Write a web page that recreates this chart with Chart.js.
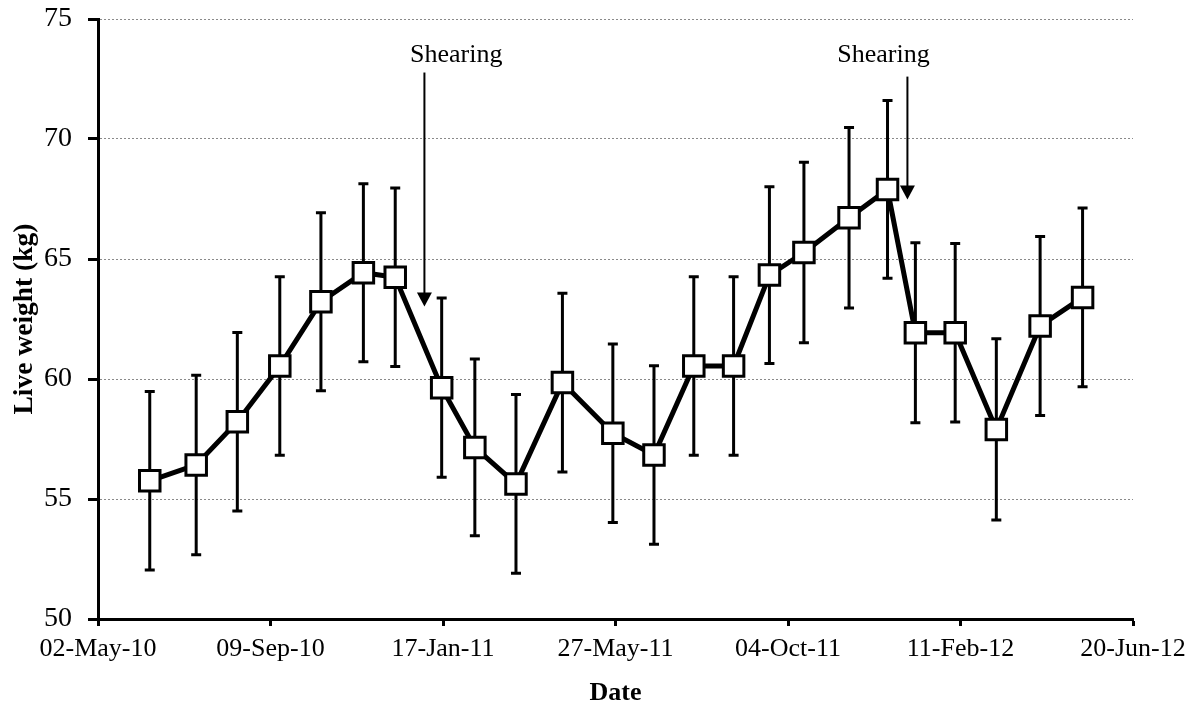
<!DOCTYPE html>
<html>
<head>
<meta charset="utf-8">
<script src="https://cdn.jsdelivr.net/npm/chart.js@4/dist/chart.umd.min.js"></script>
<style>
  html, body { margin: 0; padding: 0; background: #fff; }
  #wrap { width: 1204px; height: 709px; }
</style>
</head>
<body>
<div id="wrap"><canvas id="c" width="1204" height="709"></canvas></div>
<script>
// Sampling dates and mean live weight (kg) with ± error
const sampleDates = [
  '2010-06-10', '2010-07-15', '2010-08-15', '2010-09-16', '2010-10-17', '2010-11-18',
  '2010-12-12', '2011-01-16', '2011-02-10', '2011-03-13', '2011-04-17', '2011-05-25',
  '2011-06-25', '2011-07-25', '2011-08-24', '2011-09-20', '2011-10-16', '2011-11-19',
  '2011-12-18', '2012-01-08', '2012-02-07', '2012-03-09', '2012-04-11', '2012-05-13'
];
const liveWeight = [
  55.76, 56.42, 58.22, 60.54, 63.22, 64.43,
  64.24, 59.64, 57.15, 55.63, 59.85, 57.74,
  56.83, 60.54, 60.54, 64.33, 65.27, 66.72,
  67.90, 61.93, 61.93, 57.90, 62.21, 63.40
];
const weightError = [
  3.72, 3.74, 3.72, 3.72, 3.71, 3.71,
  3.72, 3.73, 3.68, 3.72, 3.72, 3.72,
  3.72, 3.72, 3.72, 3.68, 3.76, 3.76,
  3.70, 3.75, 3.72, 3.78, 3.73, 3.72
];
const xTickDates = ['2010-05-02', '2010-09-09', '2011-01-17', '2011-05-27', '2011-10-04', '2012-02-11', '2012-06-20'];
const yTicks = [50, 55, 60, 65, 70, 75];

// Shearing events: arrow date, arrow top / tip (kg), label date and label baseline (kg)
const shearArrowDates = ['2011-01-03', '2012-01-02'];
const shearArrowTop = [72.77, 72.60];
const shearArrowTip = [63.02, 67.48];
const shearLabelDates = ['2011-01-27', '2011-12-15'];
const shearLabelLevel = [73.19, 73.19];
const shearLabel = 'Shearing';

const MONTHS = ['Jan','Feb','Mar','Apr','May','Jun','Jul','Aug','Sep','Oct','Nov','Dec'];
function dayNum(s) {
  const [y, m, d] = s.split('-').map(Number);
  return Date.UTC(y, m - 1, d) / 86400000;
}
function fmtDay(n) {
  const dt = new Date(Math.round(n) * 86400000);
  const dd = String(dt.getUTCDate()).padStart(2, '0');
  const yy = String(dt.getUTCFullYear() % 100).padStart(2, '0');
  return dd + '-' + MONTHS[dt.getUTCMonth()] + '-' + yy;
}

const points = sampleDates.map((d, i) => ({ x: dayNum(d), y: liveWeight[i] }));
const FONT = "'Liberation Serif', 'Times New Roman', serif";

// Vertical error bars with caps, drawn beneath the line and markers
const errorBars = {
  id: 'errorBars',
  beforeDatasetsDraw(chart) {
    const { ctx, scales: { x, y } } = chart;
    ctx.save();
    ctx.strokeStyle = '#000';
    ctx.lineWidth = 3;
    ctx.lineCap = 'butt';
    points.forEach((p, i) => {
      const px = x.getPixelForValue(p.x);
      const yt = y.getPixelForValue(p.y + weightError[i]);
      const yb = y.getPixelForValue(p.y - weightError[i]);
      ctx.beginPath();
      ctx.moveTo(px, yt); ctx.lineTo(px, yb);
      ctx.moveTo(px - 5, yt); ctx.lineTo(px + 5, yt);
      ctx.moveTo(px - 5, yb); ctx.lineTo(px + 5, yb);
      ctx.stroke();
    });
    ctx.restore();
  }
};

// Shearing arrows and labels
const shearMarks = {
  id: 'shearMarks',
  afterDatasetsDraw(chart) {
    const { ctx, scales: { x, y } } = chart;
    ctx.save();
    ctx.strokeStyle = '#000';
    ctx.fillStyle = '#000';
    shearArrowDates.forEach((d, i) => {
      const ax = x.getPixelForValue(dayNum(d));
      const top = y.getPixelForValue(shearArrowTop[i]);
      const tip = y.getPixelForValue(shearArrowTip[i]);
      ctx.lineWidth = 2;
      ctx.beginPath();
      ctx.moveTo(ax, top);
      ctx.lineTo(ax, tip - 12);
      ctx.stroke();
      ctx.beginPath();
      ctx.moveTo(ax - 7.5, tip - 14);
      ctx.lineTo(ax + 7.5, tip - 14);
      ctx.lineTo(ax, tip);
      ctx.closePath();
      ctx.fill();
      ctx.font = '26px ' + FONT;
      ctx.textAlign = 'center';
      ctx.textBaseline = 'alphabetic';
      ctx.fillText(shearLabel, x.getPixelForValue(dayNum(shearLabelDates[i])), y.getPixelForValue(shearLabelLevel[i]));
    });
    ctx.restore();
  }
};

new Chart(document.getElementById('c'), {
  type: 'line',
  data: {
    datasets: [{
      data: points,
      borderColor: '#000',
      borderWidth: 5,
      tension: 0,
      pointStyle: 'rect',
      pointRadius: 14.5,
      pointHoverRadius: 14.5,
      pointBackgroundColor: '#fff',
      pointBorderColor: '#000',
      pointBorderWidth: 3
    }]
  },
  options: {
    responsive: false,
    animation: false,
    devicePixelRatio: 1,
    layout: { padding: { top: 19, right: 71, left: 0, bottom: 0 } },
    plugins: { legend: { display: false }, tooltip: { enabled: false } },
    scales: {
      x: {
        type: 'linear',
        min: dayNum(xTickDates[0]),
        max: dayNum(xTickDates[xTickDates.length - 1]),
        afterBuildTicks(scale) {
          scale.ticks = xTickDates.map(d => ({ value: dayNum(d) }));
        },
        afterFit(scale) {
          scale.height = 90;
          scale.paddingLeft = 0;
          scale.paddingRight = 0;
        },
        grid: {
          drawOnChartArea: false,
          drawTicks: true,
          tickLength: 7,
          tickWidth: 3,
          tickColor: '#000'
        },
        border: { display: true, color: '#000', width: 3 },
        ticks: {
          autoSkip: false,
          maxRotation: 0,
          padding: 8,
          color: '#000',
          font: { family: FONT, size: 26 },
          callback: v => fmtDay(v)
        },
        title: {
          display: true,
          text: 'Date',
          color: '#000',
          font: { family: FONT, size: 26, weight: 'bold' },
          padding: { top: 0, bottom: 0 }
        }
      },
      y: {
        min: yTicks[0],
        max: yTicks[yTicks.length - 1],
        afterBuildTicks(scale) {
          scale.ticks = yTicks.map(v => ({ value: v }));
        },
        afterFit(scale) {
          scale.width = 98;
          scale.paddingTop = 0;
          scale.paddingBottom = 0;
        },
        grid: {
          color: '#8a8a8a',
          lineWidth: 1,
          drawTicks: true,
          tickLength: 10,
          tickWidth: 3,
          tickColor: '#000',
          tickBorderDash: []
        },
        border: { display: true, color: '#000', width: 3, dash: [2, 2] },
        ticks: {
          padding: 16,
          color: '#000',
          font: { family: FONT, size: 28 }
        },
        title: {
          display: true,
          text: 'Live weight (kg)',
          color: '#000',
          font: { family: FONT, size: 27.5, weight: 'bold' },
          padding: { top: 8, bottom: 0 }
        }
      }
    }
  },
  plugins: [errorBars, shearMarks]
});
</script>
</body>
</html>
